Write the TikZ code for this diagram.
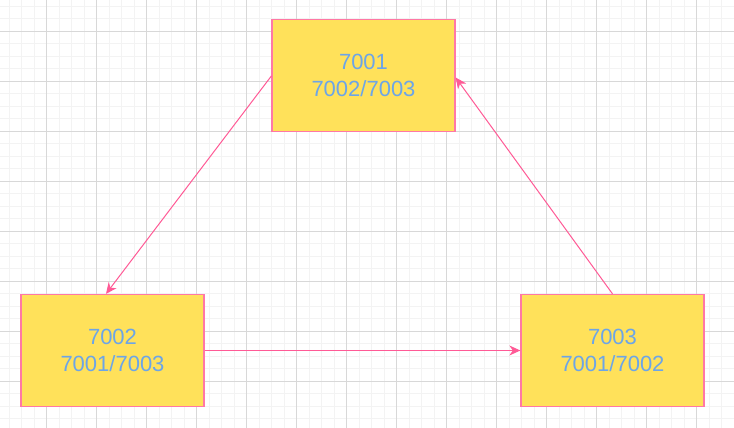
\documentclass[tikz,border=0pt]{standalone}
\usepackage{fontspec}
\setmainfont{Liberation Sans}
\usetikzlibrary{arrows.meta,calc}
\definecolor{boxfill}{RGB}{255,225,90}
\definecolor{boxline}{RGB}{255,120,165}
\definecolor{arrowcol}{RGB}{255,90,150}
\definecolor{txtcol}{RGB}{108,165,232}
\definecolor{gridminor}{RGB}{243,243,243}
\definecolor{gridmajor}{RGB}{216,216,216}
\tikzset{
  portbox/.style={draw=boxline, fill=boxfill, line width=1.3pt, minimum width=183pt, minimum height=112pt, inner sep=0pt, align=center, text=txtcol, font=\fontsize{22}{27.5}\selectfont},
  link/.style={draw=arrowcol, line width=1pt, -{Stealth[length=11pt,width=10pt,inset=3.5pt]}}
}
\begin{document}
\begin{tikzpicture}[x=1pt,y=-1pt]
\useasboundingbox (0,0) rectangle (734,428);
\fill[white] (0,0) rectangle (734,428);
% minor grid
\foreach \i in {0,...,58} {
  \draw[gridminor, line width=0.8pt] ({9+12.5*\i},0) -- ({9+12.5*\i},428);
}
\foreach \j in {0,...,34} {
  \draw[gridminor, line width=0.8pt] (0,{6.3+12.5*\j}) -- (734,{6.3+12.5*\j});
}
% major grid
\foreach \i in {0,...,14} {
  \draw[gridmajor, line width=0.8pt] ({-3.5+50*\i},0) -- ({-3.5+50*\i},428);
}
\foreach \j in {0,...,8} {
  \draw[gridmajor, line width=0.8pt] (0,{31.3+50*\j}) -- (734,{31.3+50*\j});
}
% boxes
\node[portbox] (n1) at (363.5,75.5) {7001\\7002/7003};
\node[portbox] (n2) at (112.5,350.5) {7002\\7001/7003};
\node[portbox] (n3) at (612.5,350.5) {7003\\7001/7002};
% links
\draw[link] ($(n1.west)+(0,0.5)$) -- ($(n2.north)+(-6.5,0)$);
\draw[link] (n2.east) -- (n3.west);
\draw[link] (n3.north) -- ($(n1.east)+(0,2)$);
\end{tikzpicture}
\end{document}
